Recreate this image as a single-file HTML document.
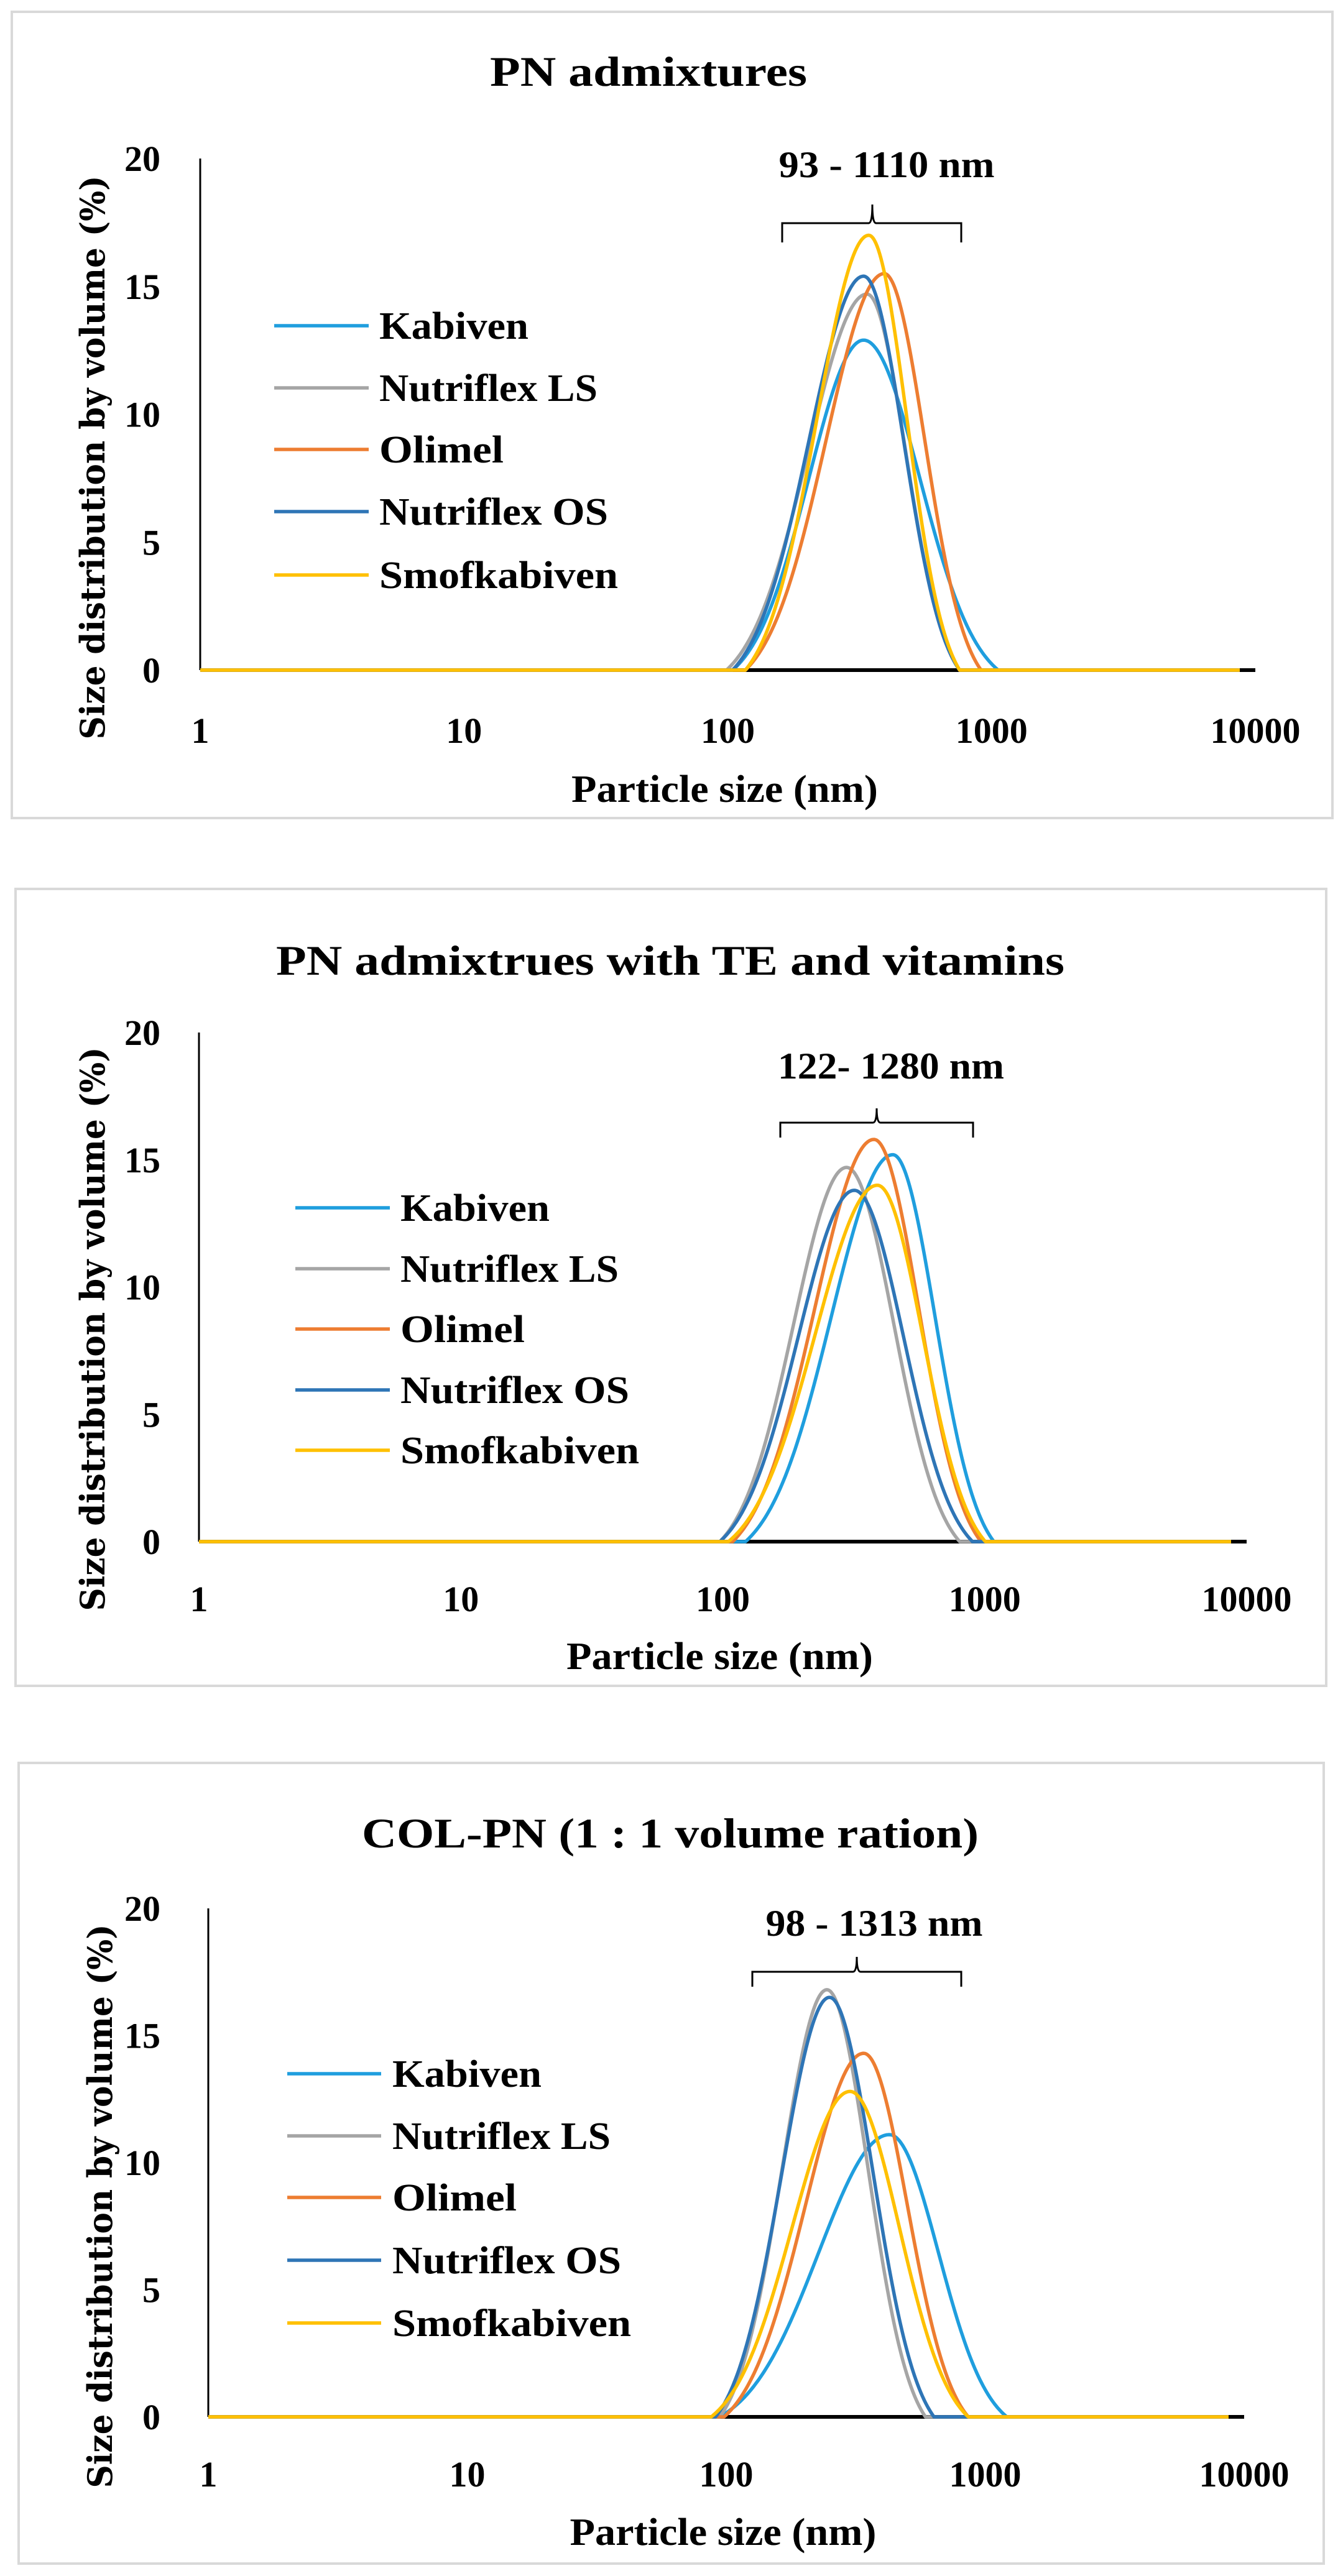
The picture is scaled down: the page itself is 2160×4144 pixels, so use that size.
<!DOCTYPE html>
<html><head><meta charset="utf-8"><style>
html,body{margin:0;padding:0;background:#fff;}
svg{display:block;}
text{font-family:"Liberation Serif",serif;font-weight:bold;fill:#000;}
</style></head><body>
<svg id="s" width="2160" height="4144" xmlns="http://www.w3.org/2000/svg"></svg>
<script>
const S=document.getElementById('s');let h='';
const C={K:'#1f9ede',L:'#a5a5a5',O:'#ed7d31',N:'#2e75b6',Y:'#ffc000'};
const charts=[
{bx:19,by:19,bw:2124,bh:1297,title:'PN admixtures',tw:510,ty:138,tx:1043,
 ax:322,top:255,zero:1078,end:2019,dec:424.25,
 tl:1195,xt:1290,yt:{x:150,y:736},
 leg:{x1:441,x2:593,tx:610,ys:[524,624,723,823,925]},
 ann:{t:'93 - 1110 nm',w:347,x:1426,y:285,l:1258,r:1546,c:1403,tip:329,hz:359,e:390},
 cur:[['K',1008,12.9,855,1165],['L',1012,14.7,848,1120],['O',1032,15.5,870,1145],['N',1008,15.4,855,1120],['Y',1014,17.0,870,1120]],
 z:[234,1465],zr:[322,2019]},
{bx:25,by:1430,bw:2108,bh:1282,title:'PN admixtrues with TE and vitamins',tw:1268,ty:1568,tx:1078,
 ax:320,top:1661,zero:2480,end:2005,dec:421.25,
 tl:2592,xt:2685,yt:{x:150,y:2138},
 leg:{x1:475,x2:627,tx:644,ys:[1943,2041,2138,2236,2333]},
 ann:{t:'122- 1280 nm',w:364,x:1433,y:1735,l:1255,r:1565,c:1410,tip:1783,hz:1806,e:1830},
 cur:[['K',1042,15.2,870,1160],['L',988,14.7,840,1120],['O',1020,15.8,855,1145],['N',997,13.8,840,1135],['Y',1024,14.0,850,1150]],
 z:[232,1455],zr:[320,2005]},
{bx:30,by:2836,bw:2099,bh:1288,title:'COL-PN (1 : 1 volume ration)',tw:992,ty:2972,tx:1078,
 ax:335,top:3070,zero:3888,end:2001,dec:416.5,
 tl:4000,xt:4094,yt:{x:162,y:3549},
 leg:{x1:462,x2:613,tx:631,ys:[3336,3436,3535,3636,3737]},
 ann:{t:'98 - 1313 nm',w:349,x:1406,y:3114,l:1210,r:1546,c:1378,tip:3148,hz:3172,e:3196},
 cur:[['K',1038,11.1,840,1175],['L',965,16.8,840,1080],['O',1008,14.3,845,1130],['N',968,16.5,835,1090],['Y',992,12.8,830,1130]],
 z:[243,1452],zr:[335,2001]}
];
const names=['Kabiven','Nutriflex LS','Olimel','Nutriflex OS','Smofkabiven'];
const nw=[240,351,200,368,384];
const K=2.4, gE=Math.exp(-0.5*K*K);
charts.forEach(c=>{
 h+=`<rect x="${c.bx}" y="${c.by}" width="${c.bw}" height="${c.bh}" fill="#fff" stroke="#d9d9d9" stroke-width="4"/>`;
 h+=`<text x="${c.tx}" y="${c.ty}" font-size="68" text-anchor="middle" textLength="${c.tw}" lengthAdjust="spacingAndGlyphs">${c.title}</text>`;
 const u=(c.zero-c.top)/20;
 for(let i=0;i<=4;i++){h+=`<text x="258" y="${c.zero-i*5*u+20}" font-size="58" text-anchor="end">${i*5}</text>`;}
 ['1','10','100','1000','10000'].forEach((t,i)=>{h+=`<text x="${c.ax+i*c.dec}" y="${c.tl}" font-size="58" text-anchor="middle">${t}</text>`;});
 h+=`<text x="${(c.ax+c.end)/2-5}" y="${c.xt}" font-size="62" text-anchor="middle" textLength="493" lengthAdjust="spacingAndGlyphs">Particle size (nm)</text>`;
 h+=`<text transform="translate(${c.yt.x},${c.yt.y}) rotate(-90)" x="0" y="18" font-size="54" text-anchor="middle" textLength="907" lengthAdjust="spacingAndGlyphs" style="font-family:'DejaVu Serif',serif">Size distribution by volume (%)</text>`;
 h+=`<line x1="${c.ax}" y1="${c.top}" x2="${c.ax}" y2="${c.zero}" stroke="#000" stroke-width="3"/>`;
 h+=`<line x1="${c.ax}" y1="${c.zero}" x2="${c.end}" y2="${c.zero}" stroke="#000" stroke-width="6"/>`;
 const zx=v=>c.zr[0]+(v-c.z[0])*(c.zr[1]-c.zr[0])/(c.z[1]-c.z[0]);
 const ord=['K','L','O','N','Y'];
 c.cur.forEach(q=>{
  const [k,p,pk,l,r]=q;const P=zx(p),L=zx(l),R=zx(r);
  const sl=(P-L)/K,sr=(R-P)/K;let d=`M${c.ax},${c.zero} L${L.toFixed(1)},${c.zero}`;
  for(let x=L;x<=R;x+=2){const s=x<P?sl:sr;const g=Math.exp(-0.5*((x-P)/s)**2);const y=pk*Math.max(0,(g-gE)/(1-gE));d+=` L${x.toFixed(1)},${(c.zero-y*u).toFixed(1)}`;}
  d+=` L${R.toFixed(1)},${c.zero} L${c.end-25},${c.zero}`;
  h+=`<path d="${d}" fill="none" stroke="${C[k]}" stroke-width="5.5" stroke-linejoin="round"/>`;
 });
 ord.forEach((k,i)=>{const y=c.leg.ys[i];
  h+=`<line x1="${c.leg.x1}" y1="${y}" x2="${c.leg.x2}" y2="${y}" stroke="${C[k]}" stroke-width="5.5"/>`;
  h+=`<text x="${c.leg.tx}" y="${y+21}" font-size="62" textLength="${nw[i]}" lengthAdjust="spacingAndGlyphs">${names[i]}</text>`;});
 const a=c.ann;
 h+=`<text x="${a.x}" y="${a.y}" font-size="60" text-anchor="middle" textLength="${a.w}" lengthAdjust="spacingAndGlyphs">${a.t}</text>`;
 h+=`<path d="M${a.l},${a.e} L${a.l},${a.hz} L${a.c-6},${a.hz} Q${a.c},${a.hz} ${a.c},${a.tip} Q${a.c},${a.hz} ${a.c+6},${a.hz} L${a.r},${a.hz} L${a.r},${a.e}" fill="none" stroke="#000" stroke-width="3"/>`;
});
S.innerHTML=h;
</script>
</body></html>
